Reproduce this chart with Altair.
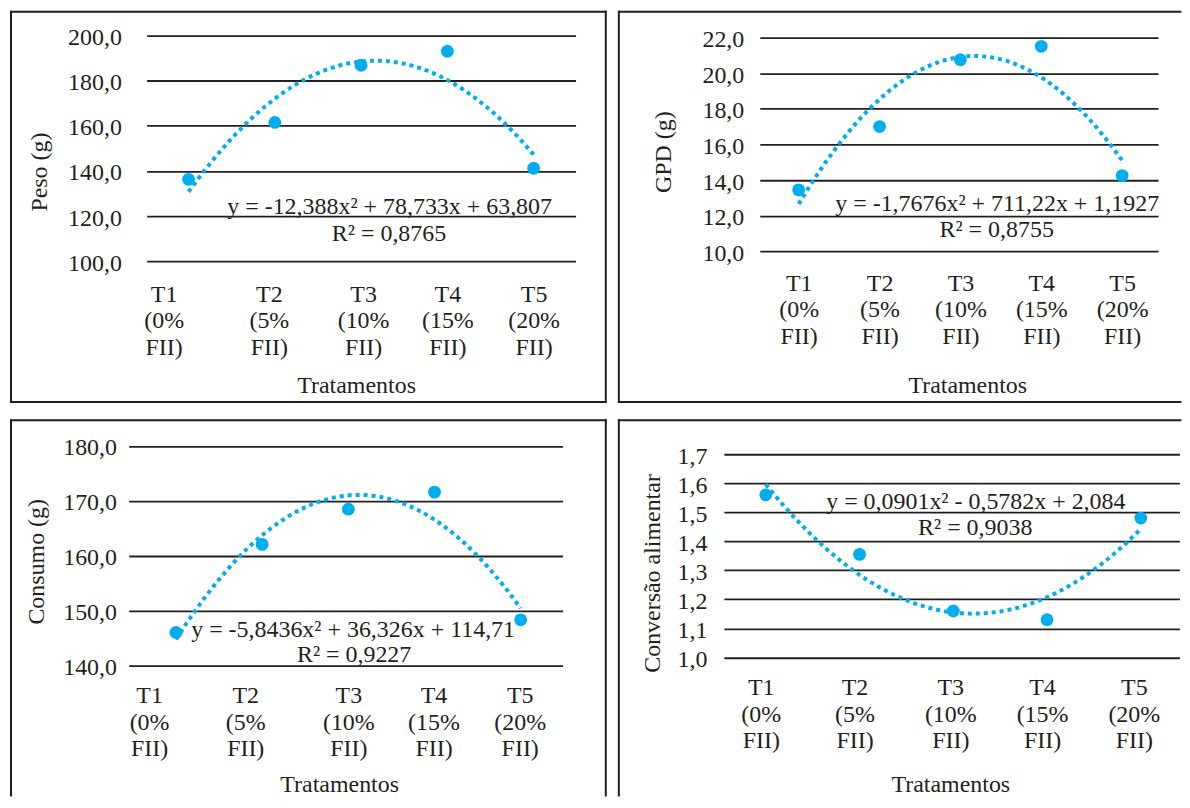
import altair as alt
import pandas as pd

# ---------------- data ----------------
x_idx = [1, 2, 3, 4, 5]
tick_lines = [["T1", "(0%", "FII)"], ["T2", "(5%", "FII)"], ["T3", "(10%", "FII)"],
              ["T4", "(15%", "FII)"], ["T5", "(20%", "FII)"]]

peso = [136.3, 161.5, 186.8, 193.0, 141.2]
gpd = [13.45, 17.0, 20.75, 21.5, 14.25]
consumo = [146.1, 162.1, 168.5, 171.6, 148.4]
conversao = [1.56, 1.355, 1.16, 1.13, 1.48]

peso_ticks = [100, 120, 140, 160, 180, 200]
gpd_ticks = [10, 12, 14, 16, 18, 20, 22]
consumo_ticks = [140, 150, 160, 170, 180]
conversao_ticks = [1.0, 1.1, 1.2, 1.3, 1.4, 1.5, 1.6, 1.7]

titles = ["Peso (g)", "GPD (g)", "Consumo (g)", "Conversão alimentar"]
x_title = "Tratamentos"
equations = [
    ("y = -12,388x² + 78,733x + 63,807", "R² = 0,8765"),
    ("y = -1,7676x² + 711,22x + 1,1927", "R² = 0,8755"),
    ("y = -5,8436x² + 36,326x + 114,71", "R² = 0,9227"),
    ("y = 0,0901x² - 0,5782x + 2,084", "R² = 0,9038"),
]

# ---------------- style ----------------
FONT = "Liberation Serif"
FS = 24
INK = "#231f20"
BLUE = "#00aeef"

label_expr = str(tick_lines).replace("'", '"') + "[datum.value - 1]"
one = alt.Data(values=[{}])


def offset_cond(offs):
    return {"condition": [{"test": f"datum.value == {i + 1}", "value": o} for i, o in enumerate(offs)],
            "value": 0}


def panel(values, ticks, ydom, xdom, ytitle, eq, W, H, xr, yr, sides, ylpad, ytx, yty,
          xlpad, xtx, xty, eqpos, xoffs):
    df = pd.DataFrame({"x": x_idx, "y": values})
    xs = alt.X("x:Q", scale=alt.Scale(domain=xdom, range=xr, nice=False, zero=False),
               axis=alt.Axis(values=x_idx, labelExpr=label_expr, grid=False, ticks=False,
                             tickSize=0, domain=False, offset=-(H - yr[0]),
                             labelPadding=xlpad, labelLineHeight=26.5,
                             labelFont=FONT, labelFontSize=FS, labelColor=INK,
                             labelOffset=offset_cond(xoffs),
                             title=x_title, titleFont=FONT, titleFontSize=FS,
                             titleFontWeight="normal", titleColor=INK, titleX=xtx, titleY=xty,
                             titleBaseline="alphabetic", titleAlign="center", labelFlush=False,
                             labelOverlap=False))
    ys = alt.Y("y:Q", scale=alt.Scale(domain=ydom, range=yr, nice=False, zero=False),
               axis=alt.Axis(values=ticks, labelExpr="replace(format(datum.value, '.1f'), '.', ',')",
                             grid=True, gridColor=INK, gridWidth=1.8, ticks=False, tickSize=0,
                             domain=False, offset=-xr[0], labelPadding=ylpad, labelFont=FONT,
                             labelFontSize=FS, labelColor=INK, labelOffset=2, labelOverlap=False,
                             labelFlush=False,
                             title=ytitle, titleFont=FONT, titleFontSize=FS, titleFontWeight="normal",
                             titleColor=INK, titleX=ytx, titleY=yty, titleAngle=-90,
                             titleBaseline="middle", titleAlign="center"))
    layers = []
    edge = dict(stroke=INK, strokeWidth=2, strokeCap="square")
    if "top" in sides:
        layers.append(alt.Chart(one).mark_rule(**edge).encode(
            x=alt.value(0), x2=alt.value(W), y=alt.value(0)))
    if "left" in sides:
        layers.append(alt.Chart(one).mark_rule(**edge).encode(
            x=alt.value(0), y=alt.value(0), y2=alt.value(H)))
    if "right" in sides:
        layers.append(alt.Chart(one).mark_rule(**edge).encode(
            x=alt.value(W), y=alt.value(0), y2=alt.value(H)))
    if "bottom" in sides:
        layers.append(alt.Chart(one).mark_rule(**edge).encode(
            x=alt.value(0), x2=alt.value(W), y=alt.value(H)))
    base = alt.Chart(df)
    pts = base.mark_point(filled=True, size=165, color=BLUE, opacity=1).encode(x=xs, y=ys)
    trend = base.transform_regression("x", "y", method="poly", order=2).mark_line(
        color=BLUE, strokeWidth=4, strokeDash=[4, 4], strokeCap="butt").encode(x="x:Q", y="y:Q")
    (ex, ey), (rx, ry) = eqpos
    t1 = alt.Chart(one).mark_text(
        text=eq[0], font=FONT, fontSize=FS, color=INK, align="center", baseline="alphabetic").encode(
        x=alt.value(ex), y=alt.value(ey))
    t2 = alt.Chart(one).mark_text(
        text=eq[1], font=FONT, fontSize=FS, color=INK, align="center", baseline="alphabetic").encode(
        x=alt.value(rx), y=alt.value(ry))
    return alt.layer(pts, trend, *layers, t1, t2).properties(width=W, height=H)


p1 = panel(peso, peso_ticks, [100, 200], [0.514, 5.486], titles[0], equations[0],
           596.3, 391.3, [136, 566], [250.3, 23.8], ("top", "left", "right", "bottom"),
           25.3, -107, 160.3, 21, 346, 131, ((379.6, 202.8), (379, 229.6)), [-25, -6, 2, 0, 0])
p2 = panel(gpd, gpd_ticks, [10, 22], [0.519, 5.444], titles[1], equations[1],
           563, 391.3, [141.3, 540.6], [240.3, 25.8], ("top", "left", "bottom"),
           16, -97, 140.3, 20, 349.3, 141, ((379.3, 199.5), (378.8, 226.3)), [0, 0, 0, 0, 0])
p3 = panel(consumo, consumo_ticks, [140, 180], [0.451, 5.486], titles[2], equations[2],
           596.3, 376, [118, 553], [246.3, 25.6], ("top", "left", "right"),
           12.2, -92, 141.3, 18, 329, 125.5, ((343, 217.3), (344, 242.3)), [-27, -17, 0, -1, -1])
p4 = panel(conversao, conversao_ticks, [1.0, 1.7], [0.553, 5.412], titles[3], equations[3],
           563, 376, [105.3, 562], [237.7, 33.9], ("top", "left"),
           17, -72, 153, 18.5, 332.3, 134.1, ((357.9, 88.9), (357.3, 115.3)), [-5, -5, -3, -5, -7])

chart = alt.vconcat(
    alt.hconcat(p1, p2, spacing=9.4),
    alt.hconcat(p3, p4, spacing=9.4),
    spacing=14.7,
).properties(padding={"left": 1, "top": 0.7, "right": 0, "bottom": 0}, background="white"
).configure_view(strokeWidth=0)

chart.save("out.html", embed_options={"renderer": "svg", "actions": False})
